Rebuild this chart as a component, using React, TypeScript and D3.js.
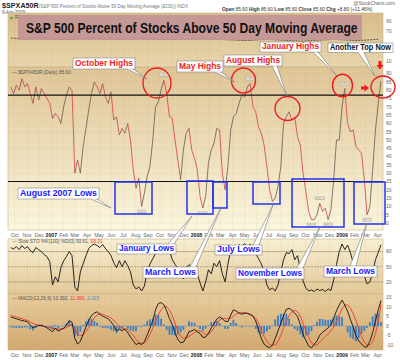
import React from 'react';
import * as d3 from 'd3';

// ---------- DATA (weekly readings, last point = 9-Apr-2009) ----------
const lastDate = new Date(2009, 3, 9);

const pctAbove50 = [
  82, 78, 83, 80, 87, 82, 84, 78, 72, 82, 74, 81, 78, 75, 72, 63, 66, 64, 60, 70,
  77, 82, 80, 30, 38, 30, 46, 57, 68, 78, 85, 82, 78, 84, 76, 72, 79, 62, 64, 53,
  57, 54, 60, 50, 32, 21, 27, 10, 18, 28, 34, 50, 70, 73, 80, 86, 78, 64, 63, 50,
  38, 26, 44, 54, 57, 44, 39, 32, 16, 9, 16, 36, 44, 48, 57, 56, 30, 20, 34, 56,
  64, 66, 72, 77, 76, 82, 84, 70, 67, 58, 54, 47, 34, 20, 13, 15, 22, 34, 60, 64,
  67, 62, 64, 52, 47, 30, 19, 7, 2, 2, 5, 12, 7, 9, 2, 8, 26, 50, 50, 70,
  81, 60, 55, 56, 46, 44, 42, 26, 5, 10, 32, 56, 72, 85.6,
];

const slowStoK = [
  88, 85, 90, 84, 92, 86, 90, 82, 78, 88, 84, 80, 74, 70, 60, 14, 30, 20, 48, 62,
  70, 80, 72, 10, 2, 40, 56, 72, 86, 92, 95, 92, 88, 94, 86, 80, 72, 58, 48, 62,
  50, 62, 52, 40, 14, 6, 10, 2, 12, 40, 55, 66, 76, 80, 88, 94, 90, 82, 64, 55,
  46, 38, 26, 48, 54, 50, 58, 36, 18, 2, 20, 44, 36, 57, 50, 62, 36, 20, 55, 82,
  92, 88, 94, 90, 96, 88, 95, 84, 76, 66, 56, 40, 14, 4, 8, 2, 14, 40, 64, 78,
  76, 84, 64, 72, 46, 22, 8, 2, 4, 1, 6, 3, 5, 1, 6, 3, 24, 54, 80, 95,
  84, 93, 78, 58, 52, 44, 48, 32, 16, 20, 38, 64, 78, 93.6,
];

const macdLine = [
  4.8, 4.3, 3.8, 3.3, 2.9, 2.6, 2.3, 0.5, -1, -0.2, 0.3, 0.4, -0.2, -1, -2, -3, -1, -2.8, -1.8, -1.2,
  0.5, 2.8, 2, -6.5, -9.5, -8, -4.2, -0.5, 3, 5.5, 6.8, 7.5, 6.2, 5.2, 4.5, 3.8, 2.2, 0.3, -2.5, -1.8,
  -2.4, -1.6, -3.5, -5.8, -7.8, -9.8, -9, -9.8, -8.3, -4.8, -1, 2.8, 8.5, 11.8, 12.3, 11.2, 8, 4, 0.8, -3.5,
  -7, -8.8, -8.5, -6.2, -3, -2.6, -1.8, -3, -4, -6, -5.8, -4, -1, 1.2, 3.6, 4.8, 3.8, 2.5, 2.3, 5.8,
  8.5, 7.9, 6.8, 6.2, 6.8, 6.6, 6, 5.2, 2.5, -2, -6.5, -9.5, -10.8, -11.4, -10, -6.5, -2.5, 1.5, 5.5, 8.8,
  9.3, 8.2, 6.8, 5, 0.8, -4.5, -7.5, -10.5, -11.5, -9.6, -7.8, -4.8, -3.3, -2.2, -1, 0.8, 4, 8, 11, 13.6,
  11, 7.8, 3.5, -0.5, -5, -7.8, -9.5, -11, -11, -8, -3.5, 2.5, 8.5, 13.4,
];

const macdSignal = [
  5.5, 5.2, 4.8, 4.3, 3.9, 3.4, 3, 2.2, 1.3, 0.8, 0.4, 0, -0.2, -0.5, -0.9, -1.3, -1.5, -1.6, -1.6, -1.3,
  -0.8, 0, 0.8, -1.5, -4.2, -5, -4.8, -3, -0.8, 1.8, 4.2, 5.8, 6.5, 6.2, 5.6, 5, 4.2, 3, 1.2, -0.2,
  -1, -1.4, -2, -3.5, -5, -7, -8.6, -9.3, -9, -7.5, -4.5, -1, 2.5, 6, 8.5, 10.3, 10.2, 8.5, 5.5, 1.5,
  -2.5, -5.5, -6.4, -6.2, -5.5, -4.5, -3.5, -2.5, -2.5, -3.5, -4.5, -4.2, -3, -1, 1, 3.2, 4, 4, 3.8, 4.2,
  5.2, 6.3, 7, 7, 7, 6.8, 6.2, 5.5, 4, 1.5, -2.5, -5.5, -8, -9.8, -10.2, -10, -8, -5, -1, 2.5,
  5.5, 7.3, 8.3, 7.5, 5.2, 1.5, -2.5, -6, -8.8, -10, -10, -8.5, -7, -5.5, -4.2, -2.5, -0.5, 2.5, 6, 9,
  11, 11.2, 9.5, 6.5, 3, -1.5, -5.5, -8.5, -10, -10, -8.5, -4, 2, 11.4,
];

// RSI(600), one reading every 4 weeks
const rsi600 = [
  56, 55, 56, 55, 54, 53, 55, 56, 55, 54, 53, 54, 55, 54, 53, 53, 54, 55, 54, 53,
  52, 51, 52, 53, 52, 51, 50, 51, 52, 53, 52, 51, 52, 53.6,
];

const mainTicks = [0, 5, 10, 15, 20, 25, 30, 35, 40, 45, 50, 55, 60, 65, 70, 75, 80, 85, 90];
const refLevels = [77, 25];
const rsiTicks = [10, 30, 50, 70, 90];
const rsiTickLabels = [10, 70, 90]; // 30 and 50 sit under the "Another Top Now" note
const stoTicks = [20, 50, 80];
const macdTicks = [-10, -5, 0, 5, 10, 15];

// ---------- LAYOUT ----------
const W = 400, H = 360;
const L = 8, R = 383;
const RSI_T = 13, RSI_B = 67;
const MAIN_T = 67, MAIN_B = 230;
const STO_T = 239, STO_B = 294;
const MACD_T = 294, MACD_B = 350;
const FONT = 'Liberation Sans, Arial, sans-serif';

const N = pctAbove50.length;
const dates = pctAbove50.map((_, i) => d3.timeDay.offset(lastDate, -7 * (N - 1 - i)));

const x = d3.scaleTime().domain([new Date(2006, 8, 14), new Date(2009, 3, 14)]).range([L, R]);
const yMain = d3.scaleLinear().domain([0, 100]).range([223, 57]);
const yRsi = d3.scaleLinear().domain([0, 100]).range([66, 16]);
const ySto = d3.scaleLinear().domain([0, 100]).range([292, 241.5]);
const yMacd = d3.scaleLinear().domain([0, 15]).range([326, 297.5]);

const months = d3.timeMonth.range(new Date(2006, 9, 1), new Date(2009, 4, 1));
const fmtMon = d3.timeFormat('%b');

function Gradient({ id, top, bottom }: { id: string; top: string; bottom: string }) {
  return (
    <linearGradient id={id} x1="0" y1="0" x2="0" y2="1">
      <stop offset="0" stopColor={top} />
      <stop offset="1" stopColor={bottom} />
    </linearGradient>
  );
}

function MonthGrid({ t, b }: { t: number; b: number }) {
  return (
    <g>
      {months.map((m, i) => (
        <line key={i} x1={x(m)} x2={x(m)} y1={t} y2={b} stroke="#b8a47a" strokeOpacity={0.35} strokeWidth={0.6} strokeDasharray="1,1" />
      ))}
    </g>
  );
}

function MonthLabels({ y }: { y: number }) {
  return (
    <g>
      {months.map((m, i) => {
        const isYear = m.getMonth() === 0;
        return (
          <text key={i} x={x(m)} y={y} fontSize={5.2} fontFamily={FONT} textAnchor="middle"
            fill={isYear ? '#222' : '#666'} fontWeight={isYear ? 'bold' : 'normal'}>
            {isYear ? String(m.getFullYear()) : fmtMon(m)}
          </text>
        );
      })}
    </g>
  );
}

function HGrid({ ticks, scale, labels }: { ticks: number[]; scale: (v: number) => number; labels?: number[] }) {
  const shown = labels || ticks;
  return (
    <g>
      {ticks.map((t) => (
        <g key={t}>
          <line x1={L} x2={R} y1={scale(t)} y2={scale(t)} stroke="#b8a47a" strokeOpacity={0.35} strokeWidth={0.6} strokeDasharray="1,1" />
          {shown.includes(t) && (
            <text x={386} y={scale(t) + 1.8} fontSize={5} fontFamily={FONT} fill="#666">{t}</text>
          )}
        </g>
      ))}
    </g>
  );
}

type Callout = { x: number; y: number; w: number; h: number; text: string; color: string; tail: [number, number][] };

const callouts: Callout[] = [
  { x: 73, y: 58, w: 62, h: 11, text: 'October Highs', color: '#ee1c1c', tail: [[127, 69], [133, 69], [147, 79]] },
  { x: 177, y: 61, w: 46, h: 11, text: 'May Highs', color: '#ee1c1c', tail: [[215, 72], [221, 72], [235, 82]] },
  { x: 224, y: 55, w: 58, h: 11, text: 'August Highs', color: '#ee1c1c', tail: [[272, 66], [277, 66], [287, 96]] },
  { x: 260, y: 42, w: 61, h: 10, text: 'January Highs', color: '#ee1c1c', tail: [[313, 52], [318, 52], [337, 76]] },
  { x: 328, y: 43, w: 65, h: 9.5, text: 'Another Top Now', color: '#111', tail: [[358, 52.5], [364, 52.5], [375, 76]] },
  { x: 18, y: 188, w: 81, h: 11, text: 'August 2007  Lows', color: '#1a1aff', tail: [[91, 199], [97, 199], [111, 208]] },
  { x: 117, y: 244, w: 59, h: 10, text: 'January Lows', color: '#1a1aff', tail: [[168, 244], [174, 244], [192, 216]] },
  { x: 143, y: 267, w: 55, h: 11, text: 'March Lows', color: '#1a1aff', tail: [[190, 267], [196, 267], [221, 208]] },
  { x: 215, y: 245, w: 47, h: 10, text: 'July Lows', color: '#1a1aff', tail: [[253, 245], [259, 245], [273, 205]] },
  { x: 236, y: 268, w: 68, h: 11, text: 'November Lows', color: '#1a1aff', tail: [[297, 268], [303, 268], [320, 227]] },
  { x: 324, y: 266, w: 53, h: 11, text: 'March Lows', color: '#1a1aff', tail: [[350, 266], [356, 266], [367, 223]] },
];

const circles = [
  { cx: 157, cy: 83, rx: 14, ry: 15 },
  { cx: 243.5, cy: 80.5, rx: 12, ry: 12.5 },
  { cx: 287.5, cy: 108.5, rx: 12.5, ry: 12 },
  { cx: 342.5, cy: 85.5, rx: 10, ry: 11.3 },
  { cx: 383, cy: 87, rx: 12, ry: 11 },
];

const lowBoxes = [
  { x0: 115, x1: 152, y0: 182, y1: 214 },
  { x0: 187, x1: 213, y0: 181, y1: 214 },
  { x0: 213, x1: 227, y0: 182, y1: 208 },
  { x0: 253, x1: 280, y0: 182, y1: 204 },
  { x0: 292, x1: 344, y0: 179, y1: 227 },
  { x0: 354, x1: 385, y0: 182, y1: 224 },
];

// indices of marked highs / lows
const peakMarks = [55, 86, 120, 111];
const lowMarks = [47, 69, 108, 114, 128];

export default function App() {
  const mainSegs = pctAbove50.slice(1).map((v, i) => ({
    x1: x(dates[i]), y1: yMain(pctAbove50[i]), x2: x(dates[i + 1]), y2: yMain(v), up: v >= pctAbove50[i],
  }));
  const stoPath = d3.line<number>().x((_, i) => x(dates[i])).y((d) => ySto(d))(slowStoK) || '';
  const macdPath = d3.line<number>().x((_, i) => x(dates[i])).y((d) => yMacd(d))(macdLine) || '';
  const sigPath = d3.line<number>().x((_, i) => x(dates[i])).y((d) => yMacd(d))(macdSignal) || '';
  const rsiPath = d3.line<number>().x((_, i) => x(dates[Math.min(N - 1, i * 4)])).y((d) => yRsi(d)).curve(d3.curveMonotoneX)(rsi600) || '';

  return (
    <div style={{ position: 'absolute', left: 0, top: 0 }}>
      <svg width={W} height={H} xmlns="http://www.w3.org/2000/svg" style={{ display: 'block', background: '#fff' }}>
        <defs>
          <Gradient id="gRsi" top="#d8bc8a" bottom="#e9d6ac" />
          <Gradient id="gMain" top="#dfc596" bottom="#fbf6de" />
          <Gradient id="gSto" top="#f7efd2" bottom="#e3c897" />
          <Gradient id="gMacd" top="#e7cd9d" bottom="#d3a86f" />
          <clipPath id="clipMain"><rect x={L} y={MAIN_T} width={R - L} height={MAIN_B - MAIN_T} /></clipPath>
          <clipPath id="clipSto"><rect x={L} y={STO_T} width={R - L} height={STO_B - STO_T} /></clipPath>
          <clipPath id="clipMacd"><rect x={L} y={MACD_T} width={R - L} height={MACD_B - MACD_T} /></clipPath>
        </defs>

        {/* header */}
        <text x={2} y={8} fontSize={7.2} fontWeight="bold" fontFamily={FONT} fill="#222">$SPXA50R</text>
        <text x={39} y={8} fontSize={4.6} fontFamily={FONT} fill="#777">(S&amp;P 500 Percent of Stocks Above 50 Day Moving Average (EOD)) INDX</text>
        <text x={2} y={13.5} fontSize={4.6} fontFamily={FONT} fill="#555">9-Apr-2009</text>
        <text x={395} y={5} fontSize={4.8} fontFamily={FONT} fill="#666" textAnchor="end">@StockCharts.com</text>
        <text x={222} y={11} fontSize={4.8} fontFamily={FONT} fill="#333">
          <tspan fontWeight="bold">Open</tspan> 85.60  <tspan fontWeight="bold">High</tspan> 85.60  <tspan fontWeight="bold">Low</tspan> 85.60  <tspan fontWeight="bold">Close</tspan> 85.60  <tspan fontWeight="bold">Chg</tspan> +8.80 (+11.46%)
        </text>

        {/* panel backgrounds */}
        <rect x={L} y={RSI_T} width={R - L} height={RSI_B - RSI_T} fill="url(#gRsi)" />
        <rect x={L} y={MAIN_T} width={R - L} height={MAIN_B - MAIN_T} fill="url(#gMain)" />
        <rect x={L} y={STO_T} width={R - L} height={STO_B - STO_T} fill="url(#gSto)" />
        <rect x={L} y={MACD_T} width={R - L} height={MACD_B - MACD_T} fill="url(#gMacd)" />

        {/* grids */}
        <MonthGrid t={RSI_T} b={RSI_B} />
        <MonthGrid t={MAIN_T} b={MAIN_B} />
        <MonthGrid t={STO_T} b={STO_B} />
        <MonthGrid t={MACD_T} b={MACD_B} />
        <HGrid ticks={rsiTicks} scale={yRsi} labels={rsiTickLabels} />
        <HGrid ticks={mainTicks} scale={yMain} />
        <HGrid ticks={stoTicks} scale={ySto} />
        <HGrid ticks={macdTicks} scale={yMacd} />

        {/* panel borders */}
        {[[RSI_T, RSI_B], [MAIN_T, MAIN_B], [STO_T, STO_B], [MACD_T, MACD_B]].map(([t, b], i) => (
          <rect key={i} x={L} y={t} width={R - L} height={b - t} fill="none" stroke="#c9b48a" strokeWidth={0.6} />
        ))}

        {/* RSI */}
        <path d={rsiPath} fill="none" stroke="#333" strokeWidth={0.8} strokeDasharray="2,1" />
        <text x={9} y={18.5} fontSize={4.8} fontFamily={FONT} fill="#555"><tspan fill="#2a9a2a">▲</tspan> RSI(600) 53.63</text>

        {/* main */}
        <g clipPath="url(#clipMain)">
          {mainSegs.map((s, i) => (
            <line key={i} x1={s.x1} y1={s.y1} x2={s.x2} y2={s.y2} stroke={s.up ? '#6e625a' : '#d44a4a'} strokeWidth={1} strokeOpacity={0.85} />
          ))}
        </g>
        {refLevels.map((lv) => (
          <line key={lv} x1={L} x2={R} y1={yMain(lv)} y2={yMain(lv)} stroke="#111" strokeWidth={1.2} />
        ))}
        <text x={12} y={74} fontSize={4.8} fontFamily={FONT} fill="#555">— $SPXA50R (Daily) 85.60</text>

        {/* peak/low value tags */}
        {peakMarks.map((i) => (
          <g key={'p' + i}>
            <rect x={x(dates[i]) - 5} y={yMain(pctAbove50[i]) - 7} width={10} height={4} fill="#bdb6a8" opacity={0.85} />
            <text x={x(dates[i])} y={yMain(pctAbove50[i]) - 4} fontSize={3.4} fontFamily={FONT} fill="#fff" textAnchor="middle">{pctAbove50[i].toFixed(2)}</text>
          </g>
        ))}
        {lowMarks.map((i) => (
          <g key={'l' + i}>
            <rect x={x(dates[i]) - 4.5} y={yMain(pctAbove50[i]) + 3} width={9} height={4} fill="#bdb6a8" opacity={0.85} />
            <text x={x(dates[i])} y={yMain(pctAbove50[i]) + 6} fontSize={3.4} fontFamily={FONT} fill="#fff" textAnchor="middle">{pctAbove50[i].toFixed(2)}</text>
          </g>
        ))}

        {/* low boxes */}
        {lowBoxes.map((b, i) => (
          <rect key={i} x={b.x0} y={b.y0} width={b.x1 - b.x0} height={b.y1 - b.y0} fill="none" stroke="#2233ee" strokeWidth={1.5} />
        ))}

        {/* red circles */}
        {circles.map((c, i) => (
          <ellipse key={i} cx={c.cx} cy={c.cy} rx={c.rx} ry={c.ry} fill="none" stroke="#ee1c1c" strokeWidth={1.4} />
        ))}

        {/* red arrows */}
        <path d="M378.5,61 h3 v4 h2 l-3.5,4.5 l-3.5,-4.5 h2 z" fill="#ee1c1c" />
        <path d="M361,86.5 h3.5 v-2 l4.5,3.5 l-4.5,3.5 v-2 h-3.5 z" fill="#ee1c1c" />

        {/* axis bands */}
        <MonthLabels y={236.5} />

        {/* stochastics */}
        <g clipPath="url(#clipSto)">
          {[80, 20].map((t) => (
            <line key={t} x1={L} x2={R} y1={ySto(t)} y2={ySto(t)} stroke="#9a8c70" strokeWidth={0.6} />
          ))}
          <line x1={L} x2={R} y1={ySto(50)} y2={ySto(50)} stroke="#9a8c70" strokeWidth={0.6} strokeDasharray="2,1" />
          <path d={stoPath} fill="none" stroke="#111" strokeWidth={0.9} />
        </g>
        <text x={12} y={243} fontSize={4.8} fontFamily={FONT} fill="#555">— Slow STO %K(100) %D(3) 93.61, <tspan fill="#e33">93.31</tspan></text>

        {/* MACD */}
        <g clipPath="url(#clipMacd)">
          {macdLine.map((m, i) => {
            const h = m - macdSignal[i];
            const y0 = yMacd(0), y1 = yMacd(h);
            return <rect key={i} x={x(dates[i]) - 0.9} y={Math.min(y0, y1)} width={1.8} height={Math.abs(y1 - y0)} fill="#3a7fc4" />;
          })}
          <line x1={L} x2={R} y1={yMacd(0)} y2={yMacd(0)} stroke="#7d9cc0" strokeWidth={0.6} />
          <path d={sigPath} fill="none" stroke="#f03a2a" strokeWidth={0.9} />
          <path d={macdPath} fill="none" stroke="#111" strokeWidth={0.9} />
        </g>
        <text x={12} y={299.5} fontSize={4.8} fontFamily={FONT} fill="#555">— MACD(12,26,9) 13.392, <tspan fill="#e33">11.366</tspan>, <tspan fill="#5a8cc8">2.025</tspan></text>
        <MonthLabels y={356.5} />

        {/* title box */}
        <rect x={18} y={15} width={344} height={25} fill="#c39496" fillOpacity={0.92} />
        <g transform="translate(26,33.3) scale(1,1.19)">
          <text x={0} y={0} fontSize={12.1} fontWeight="bold" fontFamily={FONT} fill="#111">
            S&amp;P 500 Percent of Stocks Above 50 Day Moving Average
          </text>
        </g>

        {/* callouts */}
        {callouts.map((c, i) => (
          <g key={i}>
            <polygon points={c.tail.map((p) => p.join(',')).join(' ')} fill="#fff" stroke="#777" strokeWidth={0.6} />
            <rect x={c.x} y={c.y} width={c.w} height={c.h} fill="#fff" stroke="#888" strokeWidth={0.6} />
            <line x1={c.tail[0][0] + 0.6} x2={c.tail[1][0] - 0.6} y1={c.tail[0][1]} y2={c.tail[1][1]} stroke="#fff" strokeWidth={1} />
            <text x={c.x + 2} y={c.y + c.h - 2.6} fontSize={8.2} fontWeight="bold" fontFamily={FONT} fill={c.color}
              textLength={c.w - 4} lengthAdjust="spacingAndGlyphs">{c.text}</text>
          </g>
        ))}
      </svg>
    </div>
  );
}
